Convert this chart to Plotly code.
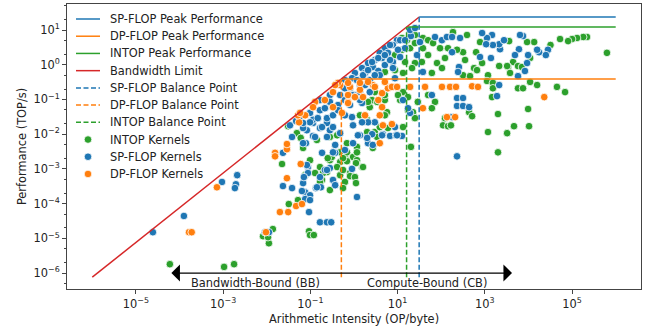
import numpy as np
import plotly.graph_objects as go

# ---- roofline parameters (TOP/s) ----
bandwidth = 0.76       # TB/s -> TOP/s per OP/byte
sp_peak = 23.7
dp_peak = 0.39
int_peak = 12.2
ai_min, ai_max = 1e-6, 1e6

# ---- kernels: arithmetic intensity (OP/byte), performance (TOP/s) ----
intop_ai = [6.0e-5, 1.05e-3, 1.78e-3, 8.2e-3, 1.12e-2, 1.38e-2, 1.07e-2, 3.2e-2, 6.0e-2, 9.3e-2,
            9.8e-2, 0.12, 2.24e-2, 3.1e-2, 4.9e-2, 6.0e-2, 6.8e-2, 0.141, 0.28, 0.41,
            0.166, 0.24, 0.28, 0.31, 0.48, 0.62, 0.33, 0.185, 0.195, 0.48,
            0.62, 0.56, 0.48, 5.2e-2, 0.25, 0.128, 0.41, 0.69, 0.95, 1.17,
            0.81, 1.53, 1.17, 9.8e-2, 7.6e-2, 0.166, 0.28, 2.7, 0.69, 1.17,
            0.69, 1.11, 1.61, 0.81, 1.05, 1.11, 0.56, 0.56, 6.0, 13.3,
            20.2, 110, 143, 2.0, 3.0, 2.0, 3.9, 5.7, 2.3, 1.37,
            2.6, 5.1, 11.4, 17.3, 3.4, 13.3, 10.2, 17.3, 29, 50,
            72, 61, 5.1, 3.4, 2.1, 5.1, 22.5, 25, 122, 25,
            16.4, 12.6, 12.6, 19.3, 25, 38, 50, 65, 94, 143,
            122, 80, 50, 36, 25, 21.4, 13.3, 8.7, 38, 61,
            104, 6.3e5, 2.2e5, 1.8e5, 1.3e5, 1.0e5, 8.1e4, 5.3e4, 3.2e4, 1.35e4,
            9300, 1.09e4, 4450, 5750, 7100, 3400, 3780, 2130, 3240, 3600,
            775, 630, 865, 565, 660, 352, 316, 457, 1180, 1120,
            316, 230, 390, 186, 1530, 1530, 1460, 5750, 7500, 1.09e4,
            1.58e4, 4.5e4, 6.9e4, 435, 510, 2000, 9800, 4660, 1.03e4, 3240,
            1180, 2000, 167, 8.7, 14.8, 5.1, 3.0]
intop_perf = [1.8e-6, 1.5e-6, 1.8e-6, 1.15e-5, 7.2e-6, 1.85e-5, 1.08e-5, 9.7e-5, 1.1e-4, 1.6e-5,
              1.24e-5, 1.24e-5, 1.38e-3, 0.017, 0.0107, 0.0078, 0.004, 0.0068, 0.0083, 0.0093,
              0.00113, 8.1e-4, 0.00178, 0.0022, 0.0030, 0.00204, 4.8e-4, 4.8e-4, 7.6e-4, 6.6e-4,
              4.2e-4, 2.8e-4, 0.00157, 1.26e-4, 0.00204, 7.6e-4, 0.00113, 0.0030, 0.0022, 0.00178,
              7.6e-4, 0.00113, 0.0043, 0.00178, 6.6e-4, 4.2e-4, 2.45e-4, 0.004, 0.0055, 0.0030,
              0.00167, 0.00147, 0.00113, 6.2e-4, 5.8e-4, 3.9e-4, 0.00204, 9.3e-4, 0.015, 0.016,
              0.0043, 0.018, 0.017, 0.026, 0.0115, 0.0115, 0.016, 0.043, 0.06, 0.035,
              0.096, 0.096, 0.096, 0.049, 0.0083, 0.163, 0.134, 0.117, 0.085, 0.134,
              0.085, 0.056, 0.134, 0.085, 0.085, 0.035, 0.043, 0.029, 0.029, 7.2,
              5.1, 5.9, 2.7, 3.0, 4.2, 5.9, 5.1, 4.2, 3.0, 3.0,
              1.56, 1.12, 1.9, 1.2, 1.12, 0.80, 0.58, 0.70, 3.0, 0.58,
              0.80, 2.2, 6.3, 6.3, 5.9, 5.5, 4.8, 5.5, 3.7, 4.5,
              4.5, 1.56, 1.2, 0.92, 0.86, 0.86, 0.58, 0.92, 0.92, 4.8,
              4.5, 2.3, 1.12, 0.80, 0.70, 1.37, 0.50, 0.47, 0.50, 0.34,
              2.3, 2.7, 7.2, 8.7, 0.30, 0.21, 0.117, 0.21, 0.21, 0.32,
              0.26, 0.23, 0.163, 0.043, 0.033, 0.038, 0.053, 0.017, 0.017, 0.0107,
              0.0115, 0.0030, 0.018, 1.9, 1.2, 0.62, 0.163]

sp_ai = [2.45e-5, 1.26e-4, 9.4e-4, 1.96e-3, 1.86e-3, 2.1e-3, 9.1e-3, 1.12e-2, 9.3e-2, 0.166,
         0.24, 0.30, 2.35e-2, 3.8e-2, 6.8e-2, 7.6e-2, 9.8e-2, 0.134, 0.174, 2.35e-2,
         8.8e-2, 8.8e-2, 7.1e-2, 6.4e-2, 7.6e-2, 9.8e-2, 3.8e-2, 8.3e-2, 7.9e-2, 0.115,
         0.166, 0.24, 0.28, 0.48, 0.115, 0.215, 0.28, 0.37, 0.33, 0.141,
         1.17, 230, 0.90, 3.0, 2.1, 1.53, 0.95, 1.37, 2.6, 4.6,
         8.7, 6.7, 9.2, 12.6, 2.1, 0.95, 0.62, 0.90, 19.3, 6.8e-2,
         0.115, 0.185, 0.128, 0.24, 0.33, 0.166, 9.8e-2, 6.8e-2, 8.3e-2, 0.166,
         0.24, 0.37, 0.185, 0.33, 0.37, 1.23, 2.0, 2.7, 4.4, 9.7,
         0.28, 0.148, 0.24, 0.33, 9.8e-2, 6.8e-2, 20.2, 9.7, 7.8, 5.1,
         6.0, 3.9, 4.4, 3.0, 2.1, 2.7, 1.53, 1.79, 1.05, 0.90,
         3.6, 5.1, 7.8, 11.4, 32.6, 72, 104, 135, 177, 27.8,
         38, 7.8, 13.3, 61, 1.53, 0.48, 0.43, 17.3, 177, 2.8e4,
         2.5e4, 1.75e4, 1.58e4, 7500, 6400, 6050, 9800, 9300, 4900, 8300,
         5750, 2230, 2130, 2750, 1530, 1460, 1120, 865, 1070, 1380,
         775, 255, 243, 177, 270, 2130, 1900, 230, 316, 230,
         316, 435, 0.48, 0.62, 0.81, 0.215, 0.62, 1.05, 1.37, 2.3,
         3.9, 1.37, 5.8e-2, 3.4e-2, 4.7e-2, 11.4, 14.8, 6.7, 1.79, 3.0,
         2.3, 0.81, 0.62, 1.17, 1.61, 2.1, 2.6, 3.6, 5.1, 6.7,
         10.2, 14.8, 19.3, 25, 1.37, 0.90, 0.28, 0.166, 0.43, 0.62,
         8.7]
sp_perf = [1.5e-5, 4.4e-5, 4.2e-4, 3.6e-4, 2.8e-4, 6.6e-4, 1.5e-5, 1.5e-5, 5.7e-5, 2.9e-5,
           2.9e-5, 2.9e-5, 3.2e-4, 2.8e-4, 3.9e-4, 2.1e-4, 1.74e-4, 2.8e-4, 2.95e-4, 0.0029,
           0.00113, 7.6e-4, 5.8e-4, 2.3e-4, 1.35e-4, 1.26e-4, 0.0083, 0.013, 0.0055, 0.021,
           0.015, 0.021, 0.013, 0.0107, 0.0089, 9.3e-4, 0.00106, 0.0029, 4.8e-4, 2.95e-4,
           1.55e-4, 0.0023, 0.031, 0.022, 0.022, 0.022, 0.018, 0.0093, 0.010, 0.010,
           0.016, 0.0089, 0.0093, 0.0089, 0.0055, 0.0055, 0.0035, 0.0010, 0.041, 0.015,
           0.026, 0.016, 0.0083, 0.0083, 0.016, 0.049, 0.041, 0.0055, 0.00129, 5.8e-4,
           9.3e-4, 3.4e-4, 0.0029, 0.0030, 0.0049, 0.0093, 0.0078, 0.0049, 0.0093, 0.0093,
           0.134, 0.029, 0.029, 0.035, 0.022, 0.021, 6.7, 5.1, 3.7, 3.0,
           2.2, 2.2, 1.56, 1.37, 1.12, 0.86, 0.80, 0.58, 0.58, 0.41,
           0.66, 0.98, 1.2, 1.67, 4.5, 6.3, 5.1, 6.3, 2.3, 1.9,
           0.62, 0.80, 0.096, 0.134, 0.079, 0.134, 0.069, 0.056, 0.031, 2.7,
           1.9, 2.3, 2.7, 6.7, 7.2, 2.8, 1.9, 1.12, 1.9, 0.66,
           0.47, 2.8, 3.9, 5.1, 3.7, 7.2, 5.9, 8.2, 3.9, 1.56,
           1.67, 0.86, 0.62, 6.3, 5.9, 0.26, 0.125, 0.11, 0.11, 0.065,
           0.065, 0.06, 0.26, 0.36, 0.21, 0.056, 0.096, 0.134, 0.26, 0.36,
           0.50, 0.096, 0.033, 0.018, 0.024, 5.1, 3.0, 1.37, 0.26, 0.50,
           0.163, 0.069, 0.21, 0.36, 0.50, 0.70, 1.2, 1.56, 1.9, 3.7,
           2.7, 5.1, 10, 11.4, 0.163, 0.134, 0.085, 0.096, 0.049, 0.035,
           0.41]

dp_ai = [1.65e-4, 1.9e-4, 7.2e-4, 9.6e-3, 2.0e-2, 3.1e-2, 4.7e-2, 6.4e-2, 1.55e-2, 1.55e-2,
         2.9e-2, 2.9e-2, 6.0e-2, 2.9e-2, 5.5e-2, 5.2e-2, 0.128, 0.215, 0.33, 0.48,
         0.81, 1.37, 2.7, 4.4, 6.0, 1.61, 3.6, 0.73, 0.33, 7.6e-2,
         1.79, 3.9, 4.6, 7.4, 3.9, 0.43, 0.73, 1.37, 2.1, 3.0,
         5.1, 7.4, 9.7, 19.3, 42.5, 104, 159, 0.73, 1.05, 0.73,
         4.4, 38, 0.53, 218, 510, 695, 2.3e4, 135, 208, 0.115,
         0.37, 5.8e-2]
dp_perf = [1.5e-5, 1.5e-5, 2.95e-4, 1.5e-5, 5.7e-5, 5.7e-5, 8.5e-5, 9.7e-5, 0.0029, 0.0023,
           0.0037, 0.0052, 0.00138, 5.4e-4, 0.022, 0.035, 0.085, 0.096, 0.163, 0.26,
           0.23, 0.19, 0.26, 0.152, 0.21, 0.117, 0.096, 0.085, 0.06, 0.035,
           0.035, 0.035, 0.018, 0.0195, 0.0055, 0.30, 0.30, 0.30, 0.32, 0.23,
           0.32, 0.23, 0.23, 0.23, 0.23, 0.23, 0.23, 0.134, 0.117, 0.079,
           0.06, 0.056, 0.041, 0.23, 0.24, 0.23, 0.117, 0.031, 0.031, 0.06,
           0.26, 0.041]

x_tick_vals = [1e-5, 1e-3, 1e-1, 1e1, 1e3, 1e5]
x_tick_text = ["10<sup>\u22125</sup>", "10<sup>\u22123</sup>", "10<sup>\u22121</sup>",
               "10<sup>1</sup>", "10<sup>3</sup>", "10<sup>5</sup>"]
y_tick_vals = [1e-6, 1e-5, 1e-4, 1e-3, 1e-2, 1e-1, 1e0, 1e1]
y_tick_text = ["10<sup>\u22126</sup>", "10<sup>\u22125</sup>", "10<sup>\u22124</sup>",
               "10<sup>\u22123</sup>", "10<sup>\u22122</sup>", "10<sup>\u22121</sup>",
               "10<sup>0</sup>", "10<sup>1</sup>"]

BLUE, ORANGE, GREEN, RED = "#1f77b4", "#ff7f0e", "#2ca02c", "#d62728"
FONT = "DejaVu Sans, Liberation Sans, sans-serif"
TXT = "#222222"
FS = 11.4

W, H = 647, 331
ML, MR, MT, MB = 67, 6, 4, 42
PW, PH = W - ML - MR, H - MT - MB

fig = go.Figure()

# kernels (drawn below the lines, as in the reference)
kernel_series = [("INTOP Kernels", intop_ai, intop_perf, GREEN),
                 ("SP-FLOP Kernels", sp_ai, sp_perf, BLUE),
                 ("DP-FLOP Kernels", dp_ai, dp_perf, ORANGE)]
for name, xs, ys, col in kernel_series:
    fig.add_trace(go.Scatter(x=xs, y=ys, mode="markers", name=name, showlegend=False,
                             marker=dict(color=col, size=7.6, line=dict(color="white", width=0.8))))

sp_bal = sp_peak / bandwidth
dp_bal = dp_peak / bandwidth
int_bal = int_peak / bandwidth
y_low = bandwidth * ai_min

roofs = [("SP-FLOP Peak Performance", sp_peak, sp_bal, BLUE),
         ("DP-FLOP Peak Performance", dp_peak, dp_bal, ORANGE),
         ("INTOP Peak Performance", int_peak, int_bal, GREEN)]
for name, peak, bal, col in roofs:
    fig.add_trace(go.Scatter(x=[bal, ai_max], y=[peak, peak], mode="lines", name=name,
                             showlegend=False, line=dict(color=col, width=1.5)))

fig.add_trace(go.Scatter(x=[ai_min, sp_bal], y=[bandwidth * ai_min, bandwidth * sp_bal],
                         mode="lines", name="Bandwidth Limit", showlegend=False,
                         line=dict(color=RED, width=1.5)))

balances = [("SP-FLOP Balance Point", sp_peak, sp_bal, BLUE),
            ("DP-FLOP Balance Point", dp_peak, dp_bal, ORANGE),
            ("INTOP Balance Point", int_peak, int_bal, GREEN)]
for name, peak, bal, col in balances:
    fig.add_trace(go.Scatter(x=[bal, bal], y=[y_low, peak], mode="lines", name=name,
                             showlegend=False, line=dict(color=col, width=1.5, dash="5px,2.5px")))

# ---- hand-built legend (matplotlib-like compact spacing) ----
legend_entries = ([(n, c, "line", None) for n, _, _, c in roofs] +
                  [("Bandwidth Limit", RED, "line", None)] +
                  [(n, c, "line", "dash") for n, _, _, c in balances] +
                  [(n, c, "marker", None) for n, _, _, c in kernel_series])


def px2paper(px, py):
    return (px - ML) / PW, (H - MB - py) / PH


row0, row_step = 19.0, 17.22
for i, (name, col, kind, dash) in enumerate(legend_entries):
    cy = row0 + i * row_step
    if kind == "line":
        x0, y0 = px2paper(76, cy)
        x1, _ = px2paper(100, cy)
        fig.add_shape(type="line", xref="paper", yref="paper", x0=x0, x1=x1, y0=y0, y1=y0,
                      line=dict(color=col, width=1.5, dash="5px,2.5px" if dash else "solid"))
    else:
        x0, y0 = px2paper(88 - 3.8, cy + 3.8)
        x1, y1 = px2paper(88 + 3.8, cy - 3.8)
        fig.add_shape(type="circle", xref="paper", yref="paper", x0=x0, x1=x1, y0=y0, y1=y1,
                      fillcolor=col, line=dict(color="white", width=0.8))
    tx, ty = px2paper(108, cy)
    fig.add_annotation(x=tx, y=ty, xref="paper", yref="paper", text=name, showarrow=False,
                       xanchor="left", yanchor="middle", font=dict(size=FS, color=TXT))

# arrow and region labels
arrow_left, arrow_right, arrow_y = 6e-5, 4.2e3, 1e-6
fig.add_annotation(x=np.log10(arrow_right), y=np.log10(arrow_y),
                   ax=np.log10(arrow_left), ay=np.log10(arrow_y),
                   xref="x", yref="y", axref="x", ayref="y", text="",
                   showarrow=True, arrowside="end+start", arrowhead=1, startarrowhead=1,
                   arrowsize=2.2, startarrowsize=2.2, arrowwidth=1.3, arrowcolor="black")
fig.add_annotation(x=np.log10(5.4e-3), y=np.log10(5.1e-7), xref="x", yref="y",
                   text="Bandwidth-Bound (BB)", showarrow=False,
                   font=dict(size=FS, color=TXT))
fig.add_annotation(x=np.log10(47), y=np.log10(5.1e-7), xref="x", yref="y",
                   text="Compute-Bound (CB)", showarrow=False,
                   font=dict(size=FS, color=TXT))

fig.update_layout(
    width=W, height=H,
    margin=dict(l=ML, r=MR, t=MT, b=MB),
    paper_bgcolor="white", plot_bgcolor="white",
    font=dict(family=FONT, size=FS, color=TXT),
    showlegend=False,
)
fig.update_xaxes(type="log", range=[-6.58, 6.58], tickvals=x_tick_vals, ticktext=x_tick_text,
                 showgrid=False, zeroline=False, showline=True, mirror=True, automargin=False,
                 linecolor="#444", linewidth=1, ticks="outside", ticklen=4,
                 tickcolor="#444", tickfont=dict(size=FS),
                 title=dict(text="Arithmetic Intensity (OP/byte)", font=dict(size=FS), standoff=5))
fig.update_yaxes(type="log", range=[-6.46, 1.75], tickvals=y_tick_vals, ticktext=y_tick_text,
                 showgrid=False, zeroline=False, showline=True, mirror=True, automargin=False,
                 linecolor="#444", linewidth=1, ticks="outside", ticklen=4,
                 tickcolor="#444", tickfont=dict(size=FS),
                 minor=dict(ticks="outside", ticklen=2, tickcolor="#444", showgrid=False),
                 title=dict(text="Performance (TOP/s)", font=dict(size=FS), standoff=4))

# the page is photographed from its top-left corner: remove the default body margin
fig.write_html("out.html", config={"displayModeBar": False},
               post_script="document.body.style.margin='0';document.body.style.padding='0';")
